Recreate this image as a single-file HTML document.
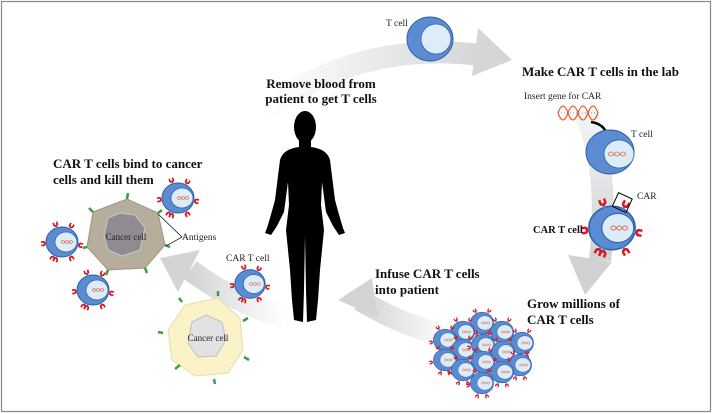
<!DOCTYPE html>
<html><head><meta charset="utf-8"><style>
html,body{margin:0;padding:0;background:#fff}
svg{display:block}
.b{font-family:"Liberation Serif",serif;font-weight:bold;font-size:13px;fill:#111}
.s{font-family:"Liberation Serif",serif;font-size:9.5px;fill:#222}
</style></head><body>
<svg width="713" height="414" viewBox="0 0 713 414" xmlns="http://www.w3.org/2000/svg">
<defs>
<linearGradient id="ga" x1="0" y1="0" x2="1" y2="0"><stop offset="0" stop-color="#fff"/><stop offset="1" stop-color="#d4d6d8"/></linearGradient>
<linearGradient id="gb" x1="0" y1="0" x2="0" y2="1"><stop offset="0" stop-color="#f4f5f6"/><stop offset="1" stop-color="#cfd1d3"/></linearGradient>
<linearGradient id="gc" x1="1" y1="0" x2="0" y2="0"><stop offset="0" stop-color="#fff"/><stop offset="1" stop-color="#d2d4d6"/></linearGradient>
<g id="rec"><rect x="-0.8" y="-5.5" width="1.6" height="3" fill="#3a8fd0"/><path d="M-2.6,-9 v2.6 a2.6,2 0 0 0 5.2,0 v-2.6 h-1.7 v2 a0.9,0.9 0 0 1 -1.8,0 v-2z" fill="#e0141e"/></g>
<g id="cell"><ellipse cx="0" cy="0" rx="16" ry="15" fill="#5b8bd0" stroke="#2f5fa8" stroke-width="1"/><ellipse cx="4" cy="0" rx="11" ry="10" fill="#dcecf9" stroke="#2f5fa8" stroke-width=".7"/><path d="M-1,0 q2,-3 4,0 t4,0 t4,0 M-1,0 q2,3 4,0 t4,0 t4,0" stroke="#e07050" stroke-width=".7" fill="none"/></g>
<g id="cart"><use href="#cell"/>
<use href="#rec" transform="rotate(-20) translate(0,-12)"/><use href="#rec" transform="rotate(30) translate(0,-12)"/><use href="#rec" transform="rotate(-95) translate(0,-12)"/><use href="#rec" transform="rotate(150) translate(0,-12)"/><use href="#rec" transform="rotate(-150) translate(0,-12)"/><use href="#rec" transform="rotate(200) translate(0,-12)"/><use href="#rec" transform="rotate(100) translate(0,-12)"/></g>
<g id="mini"><g transform="scale(0.72)"><use href="#cell"/><use href="#rec" transform="rotate(-30) translate(0,-13)"/><use href="#rec" transform="rotate(30) translate(0,-13)"/><use href="#rec" transform="rotate(-100) translate(0,-13)"/><use href="#rec" transform="rotate(160) translate(0,-13)"/><use href="#rec" transform="rotate(-160) translate(0,-13)"/></g></g>
</defs>
<rect x="1.5" y="1.5" width="709" height="410" fill="#fff" stroke="#888" stroke-width="1.2"/>

<path d="M265,110 Q360,40 480,55" stroke="url(#ga)" stroke-width="22" fill="none"/>
<polygon points="478,28 512,60 472,76" fill="#d4d6d8"/>
<path d="M585,112 Q610,170 600,260" stroke="url(#gb)" stroke-width="22" fill="none"/>
<polygon points="568,255 612,262 585,295" fill="#cfd1d3"/>
<path d="M450,335 Q410,330 360,300" stroke="url(#gc)" stroke-width="22" fill="none"/>
<polygon points="372,278 378,318 338,300" fill="#d2d4d6"/>
<path d="M285,318 Q230,300 190,270" stroke="url(#gc)" stroke-width="22" fill="none"/>
<polygon points="200,250 178,292 160,258" fill="#d2d4d6"/>

<text class="b" x="321" y="88" text-anchor="middle">Remove blood from</text>
<text class="b" x="321" y="103" text-anchor="middle">patient to get T cells</text>

<g fill="#000">
<ellipse cx="305" cy="127" rx="11" ry="16"/>
<path d="M299,138 L299,147 Q283,149 280,160 L275,200 Q271,215 267,228 L265,233 L271,235 L277,226 L284,212 L288,182 L289,205 L286,230 L290,270 L292,300 L294,320 L303,322 L304,290 L305,236 L306,290 L307,322 L316,320 L318,300 L320,270 L324,230 L321,205 L322,182 L326,212 L333,226 L339,235 L345,233 L343,228 Q339,215 335,200 L330,160 Q327,149 311,147 L311,138 Z"/>
</g>

<ellipse cx="430" cy="39" rx="23" ry="22" fill="#5b8bd0" stroke="#2f5fa8"/>
<ellipse cx="436" cy="39" rx="15" ry="15" fill="#dcecf9" stroke="#2f5fa8" stroke-width=".8"/>
<text class="s" x="386" y="26">T cell</text>

<text class="b" x="522" y="76">Make CAR T cells in the lab</text>
<text class="s" x="524" y="99">Insert gene for CAR</text>
<path d="M558,113 q5,-14 10,0 t10,0 t10,0 t10,0 M558,113 q5,14 10,0 t10,0 t10,0 t10,0" stroke="#e8602a" stroke-width="1.3" fill="none"/>
<path d="M558,113 h40" stroke="#3b70c0" stroke-width=".8" stroke-dasharray="1 2"/>
<path d="M591,122 q14,2 16,14" stroke="#000" stroke-width="2.5" fill="none"/>
<polygon points="602,134 614,134 608,142"/>
<ellipse cx="610" cy="152" rx="24" ry="22" fill="#5b8bd0" stroke="#2f5fa8"/>
<ellipse cx="619" cy="154" rx="15" ry="14" fill="#dcecf9" stroke="#2f5fa8" stroke-width=".8"/>
<path d="M608,154 q3,-4 6,0 t6,0 t6,0 M608,154 q3,4 6,0 t6,0 t6,0" stroke="#e07050" stroke-width=".8" fill="none"/>
<text class="s" x="631" y="137">T cell</text>
<g transform="translate(612,228) scale(1.45)"><use href="#cart"/></g>
<rect x="615" y="195" width="15" height="15" fill="none" stroke="#000" transform="rotate(25 622 202)"/>
<text class="s" x="637" y="199">CAR</text>
<text class="b" x="533" y="233" style="font-size:10.5px">CAR T cell</text>
<text class="b" x="527" y="308">Grow millions of</text>
<text class="b" x="527" y="324">CAR T cells</text>

<g>
<use href="#mini" transform="translate(482,323)"/><use href="#mini" transform="translate(502,332)"/>
<use href="#mini" transform="translate(463,332)"/><use href="#mini" transform="translate(445,340)"/><use href="#mini" transform="translate(522,343)"/>
<use href="#mini" transform="translate(463,350)"/><use href="#mini" transform="translate(483,345)"/><use href="#mini" transform="translate(503,352)"/>
<use href="#mini" transform="translate(445,360)"/><use href="#mini" transform="translate(520,365)"/><use href="#mini" transform="translate(483,362)"/>
<use href="#mini" transform="translate(463,370)"/><use href="#mini" transform="translate(502,372)"/><use href="#mini" transform="translate(482,383)"/>
</g>

<text class="b" x="375" y="278">Infuse CAR T cells</text>
<text class="b" x="375" y="294">into patient</text>
<g transform="translate(250,284) scale(0.95)"><use href="#cart"/></g>
<text class="s" x="226" y="261">CAR T cell</text>

<polygon points="185,305 218,298 240,318 243,350 228,373 195,376 172,360 168,330" fill="#fbf3c7" stroke="#e6dca8"/>
<polygon points="192,322 206,315 222,322 226,340 216,356 198,357 188,343" fill="#e1e2e4" stroke="#bfc0c2"/>
<text class="s" x="208" y="341" text-anchor="middle" style="font-size:9px">Cancer cell</text>
<g stroke="#3aa03a" stroke-width="2.5"><path d="M182,302 l-3,-4 M218,296 l0,-5 M243,321 l5,-3 M244,357 l5,3 M214,379 l1,5 M180,365 l-5,4 M163,333 l-5,-1"/></g>

<polygon points="93,212 127,199 158,213 165,245 145,268 108,270 87,247" fill="#b7ad9c" stroke="#9e9483"/>
<polygon points="108,218 120,213 135,215 145,228 140,250 122,256 108,250 104,235" fill="#8f8b90" stroke="#c8c8ca"/>
<text class="s" x="126" y="240" text-anchor="middle" style="font-size:9px">Cancer cell</text>
<g stroke="#3aa03a" stroke-width="2.5"><path d="M127,199 l1,-6 M93,212 l-4,-4 M158,213 l4,-3 M165,245 l5,2 M145,268 l2,5 M108,270 l-2,5 M87,247 l-4,1"/></g>
<path d="M158,214 L182,237 L166,246" stroke="#000" stroke-width=".7" fill="none"/>
<text class="s" x="182" y="240">Antigens</text>
<g transform="translate(178,198)"><use href="#cart"/></g>
<g transform="translate(62,242)"><use href="#cart"/></g>
<g transform="translate(93,290)"><use href="#cart"/></g>
<text class="b" x="53" y="168">CAR T cells bind to cancer</text>
<text class="b" x="53" y="184">cells and kill them</text>
</svg>
</body></html>
